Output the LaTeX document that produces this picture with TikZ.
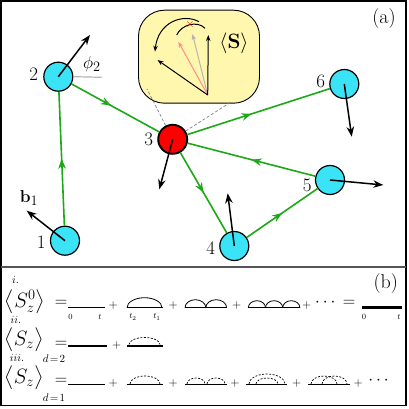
\documentclass[tikz,border=0pt]{standalone}
\usepackage{amsmath,amssymb}
\usepackage{bm}
\usepackage{tikz}
\usetikzlibrary{arrows.meta,positioning,decorations.markings}
\definecolor{SiteCyan}{HTML}{3BE3F7}
\definecolor{SiteRed}{HTML}{FF0000}
\definecolor{BondGreen}{HTML}{1CA817}
\definecolor{InsetYellow}{HTML}{FFF7AE}
\definecolor{SpinPink}{HTML}{FF8C8C}
\definecolor{SpinGray}{HTML}{B4B4B4}
\definecolor{FrameGray}{HTML}{555555}
\tikzset{
  sitenode/.style={circle,draw=black,fill=SiteCyan,line width=1.2pt,minimum size=29pt,inner sep=0pt},
  focusnode/.style={circle,draw=black,fill=SiteRed,line width=1.9pt,minimum size=29pt,inner sep=0pt},
  sitelabel/.style={font=\fontsize{19}{21}\selectfont,inner sep=0pt},
  panellabel/.style={font=\fontsize{20}{22}\selectfont,inner sep=0pt},
  spinarrow/.style={-{Stealth[length=10pt,width=7.5pt]},line width=1.5pt,draw=black},
  insetarrow/.style={-{Stealth[length=6pt,width=4.5pt]},line width=1pt,draw=black},
  bondarrow/.style={line width=1.6pt,draw=BondGreen,postaction={decorate},
    decoration={markings,mark=at position #1 with {\arrow[BondGreen]{Stealth[length=10pt,width=7.5pt]}}}},
  bondarrow/.default=0.55,
  insetbox/.style={draw=black,fill=InsetYellow,rounded corners=26pt,line width=0.9pt,minimum width=121pt,minimum height=93pt},
  zoomline/.style={dash pattern=on 3pt off 2pt,draw=gray,line width=0.7pt},
  framebox/.style={draw=black,line width=1.2pt},
  divider/.style={draw=FrameGray,line width=1.2pt},
  eqtext/.style={font=\fontsize{20}{22}\selectfont,inner sep=0pt},
  eqsign/.style={font=\fontsize{16}{18}\selectfont,inner sep=0pt},
  smalltext/.style={font=\fontsize{11}{12}\selectfont,inner sep=0pt},
  tinytext/.style={font=\fontsize{8}{9}\selectfont,inner sep=0pt},
  plustext/.style={font=\fontsize{12}{13}\selectfont,inner sep=0pt},
  propline/.style={line width=0.8pt},
  dressedline/.style={line width=2.6pt},
  freearc/.style={line width=0.8pt},
  corrarc/.style={line width=0.7pt,dash pattern=on 2pt off 1.5pt}
}

\begin{document}
\begin{tikzpicture}[x=1pt,y=-1pt]
\useasboundingbox (0,0) rectangle (409,409);
\draw[framebox] (1,1) rectangle (406,405.5);
\draw[divider] (1,267) -- (406,267);

% (a) network of spins
\node[insetbox] (inset) at (199,56.7) {};
\node[sitenode] (s1) at (65,240.7) {};
\node[sitenode] (s2) at (58.3,76.7) {};
\node[focusnode] (s3) at (172.7,139.3) {};
\node[sitenode] (s4) at (234.3,246) {};
\node[sitenode] (s5) at (330,180) {};
\node[sitenode] (s6) at (344.3,84) {};
\node[sitelabel,left=4pt of s1,yshift=-2pt] (l1) {1};
\node[sitelabel,left=5pt of s2,yshift=2pt] (l2) {2};
\node[sitelabel,left=4pt of s3] (l3) {3};
\node[sitelabel,left=4pt of s4,yshift=-2pt] (l4) {4};
\node[sitelabel,left=3pt of s5,yshift=-5pt] (l5) {5};
\node[sitelabel,left=4pt of s6,yshift=3pt] (l6) {6};
\node[panellabel] (pa) at (384,19) {(a)};

\coordinate (zoomA) at (147,89);
\coordinate (zoomB) at (231,102);
\draw[zoomline] (s3) -- (zoomA);
\draw[zoomline] (s3) -- (zoomB);

\draw[bondarrow=0.5] (s1) -- (s2);
\draw[bondarrow=0.45] (s2) -- (s3);
\draw[bondarrow=0.45] (s3) -- (s6);
\draw[bondarrow=0.5] (s5) -- (s3);
\draw[bondarrow=0.5] (s3) -- (s4);
\draw[bondarrow=0.5] (s4) -- (s5);

\coordinate (tip1) at (26.7,210.7);
\coordinate (tip2) at (90,35);
\coordinate (tip3) at (159.3,189.3);
\coordinate (tip4) at (227.7,193.3);
\coordinate (tip5) at (383.3,185);
\coordinate (tip6) at (351.7,136.7);
\draw[spinarrow] (s1.center) -- (tip1);
\draw[spinarrow] (s2.center) -- (tip2);
\draw[spinarrow] (s3.center) -- (tip3);
\draw[spinarrow] (s4.center) -- (tip4);
\draw[spinarrow] (s5.center) -- (tip5);
\draw[spinarrow] (s6.center) -- (tip6);
\node[sitelabel] (bfield) at (29,198) {$\mathbf{b}_1$};
\coordinate (phiref) at (101.7,77.3);
\draw[draw=SpinGray,line width=1.2pt] (s2.east) -- (phiref);
\node[sitelabel] (phi) at (92,64) {$\phi_2$};

% inset: precession of the average spin
\coordinate (O) at (207.7,95);
\coordinate (tipUp) at (208.3,35);
\coordinate (tipGray) at (192.5,34);
\coordinate (tipPink) at (178.3,41.7);
\coordinate (tipLong) at (157.5,60);
\draw[insetarrow,draw=SpinGray] (O) -- (tipGray);
\draw[insetarrow,draw=SpinPink] (O) -- (tipPink);
\draw[insetarrow] (O) -- (tipLong);
\draw[insetarrow] (O) -- (tipUp);
\draw[insetarrow] (199,21.7) .. controls (183,13) and (158,22) .. (155,51.7);
\draw[line width=1pt] (176.7,35) .. controls (181,25) and (197,20) .. (205,28.3);
\node[text=red,font=\fontsize{12}{12}\selectfont\bfseries,inner sep=0pt] (xmark) at (190,25) {$\times$};
\node[font=\fontsize{21}{23}\selectfont,inner sep=0pt] (avgS) at (234,43.3) {$\langle\mathbf{S}\rangle$};

% (b) diagrams
\node[panellabel] (pb) at (385.8,284) {(b)};

% row i
\node[smalltext] (ri) at (15.5,279.5) {$i.$};
\node[eqtext] (lhsi) at (25,302) {$\bigl\langle S_z^0\bigr\rangle$};
\node[eqsign] (eqi) at (61,303) {$=$};
\draw[propline] (68.3,307.7) -- (105,307.7);
\node[tinytext] (t0a) at (70.5,317) {$0$};
\node[tinytext] (tta) at (100,317) {$t$};
\node[plustext] (pi1) at (113.3,305) {$+$};
\draw[propline] (126.7,307.7) -- (163.3,307.7);
\draw[freearc] (127,307.7) arc[start angle=180,end angle=0,x radius=17.5pt,y radius=10pt];
\node[tinytext] (t2) at (133,317) {$t_2$};
\node[tinytext] (t1) at (157,317) {$t_1$};
\node[plustext] (pi2) at (173.3,305) {$+$};
\draw[propline] (185,307.7) -- (226.7,307.7);
\draw[freearc] (185,307.7) arc[start angle=180,end angle=0,x radius=10.4pt,y radius=8pt];
\draw[freearc] (205.8,307.7) arc[start angle=180,end angle=0,x radius=10.4pt,y radius=8pt];
\node[plustext] (pi3) at (236.7,305) {$+$};
\draw[propline] (248.3,307.7) -- (300,307.7);
\draw[freearc] (248.3,307.7) arc[start angle=180,end angle=0,x radius=8.6pt,y radius=7pt];
\draw[freearc] (265.5,307.7) arc[start angle=180,end angle=0,x radius=8.6pt,y radius=7pt];
\draw[freearc] (282.7,307.7) arc[start angle=180,end angle=0,x radius=8.6pt,y radius=7pt];
\node[plustext] (pi4) at (306.7,305) {$+$};
\node[eqsign] (dotsi) at (326.7,303) {$\cdots$};
\node[eqsign] (eqi2) at (349,303) {$=$};
\draw[dressedline] (361.7,307.7) -- (401.7,307.7);
\node[tinytext] (t0b) at (364,317) {$0$};
\node[tinytext] (ttb) at (399,317) {$t$};

% row ii
\node[smalltext] (rii) at (16,320) {$ii.$};
\node[eqtext] (lhsii) at (24,340) {$\bigl\langle S_z\bigr\rangle$};
\node[smalltext] (dii) at (54,359) {$d\!=\!2$};
\node[eqsign] (eqii) at (61,344) {$=$};
\draw[dressedline] (68.3,346) -- (106.7,346);
\node[plustext] (pii1) at (116.7,345) {$+$};
\draw[dressedline] (126.7,346) -- (163.3,346);
\draw[corrarc] (129,344.5) arc[start angle=180,end angle=0,x radius=15.5pt,y radius=7pt];

% row iii
\node[smalltext] (riii) at (17,358) {$iii.$};
\node[eqtext] (lhsiii) at (24,378) {$\bigl\langle S_z\bigr\rangle$};
\node[smalltext] (diii) at (54,397.5) {$d\!=\!1$};
\node[eqsign] (eqiii) at (61,381) {$=$};
\draw[propline] (68.3,384) -- (105,384);
\node[plustext] (piii1) at (113.3,383) {$+$};
\draw[propline] (126.7,384) -- (163.3,384);
\draw[corrarc] (130,384) arc[start angle=180,end angle=0,x radius=15pt,y radius=8pt];
\node[plustext] (piii2) at (173.3,383) {$+$};
\draw[propline] (185,384) -- (226.7,384);
\draw[corrarc] (187,384) arc[start angle=180,end angle=0,x radius=9pt,y radius=6pt];
\draw[corrarc] (207,384) arc[start angle=180,end angle=0,x radius=9pt,y radius=6pt];
\node[plustext] (piii3) at (235,383) {$+$};
\draw[propline] (246,384) -- (287,384);
\draw[corrarc] (249,384) arc[start angle=180,end angle=0,x radius=18pt,y radius=10pt];
\draw[corrarc] (256,384) arc[start angle=180,end angle=0,x radius=11pt,y radius=6pt];
\node[plustext] (piii4) at (296.7,383) {$+$};
\draw[propline] (308.3,384) -- (350,384);
\draw[corrarc] (311,384) arc[start angle=180,end angle=0,x radius=13pt,y radius=8pt];
\draw[corrarc] (322,384) arc[start angle=180,end angle=0,x radius=12.5pt,y radius=8pt];
\node[plustext] (piii5) at (358.3,383) {$+$};
\node[eqsign] (dotsiii) at (380,381) {$\cdots$};
\end{tikzpicture}
\end{document}
